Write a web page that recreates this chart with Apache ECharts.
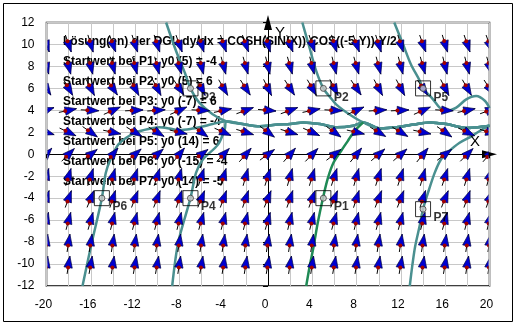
<!DOCTYPE html>
<html><head><meta charset="utf-8">
<script src="https://cdn.jsdelivr.net/npm/echarts@6/dist/echarts.min.js"></script>
<style>html,body{margin:0;padding:0;background:#fff}#c{width:515px;height:324px}</style>
</head><body><div id="c"></div>
<script>
// axis ranges and ticks
const xMin = -20, xMax = 20, xStep = 2, xLabelEvery = 4;
const yMin = -12, yMax = 12, yStep = 2;

// direction field grid (edge columns are clipped by the plot area)
const fieldX = [-20,-18,-16,-14,-12,-10,-8,-6,-4,-2,0,2,4,6,8,10,12,14,16,18,20];
const fieldY = [10,8,6,4,2,0,-2,-4,-6,-8,-10];
// arrow angles (degrees) read per row, top to bottom
const fieldAngle = [
  [-70,-71,-73,-70,-72,-72,-70,-73,-71,-70,-73,-70,-71,-73,-70,-72,-72,-70,-73,-71,-70],
  [-74,-75,-76,-74,-75,-75,-74,-76,-75,-74,-76,-74,-75,-76,-74,-75,-75,-74,-76,-75,-74],
  [-57,-60,-63,-56,-62,-62,-56,-63,-60,-57,-64,-57,-60,-63,-56,-62,-62,-56,-63,-60,-57],
  [20,12,-3,24,3,4,24,-3,12,20,-5,20,12,-3,24,4,3,24,-3,12,20],
  [-17,-25,-35,-12,-31,-31,-13,-36,-24,-17,-37,-17,-24,-36,-13,-31,-31,-12,-35,-25,-17],
  [49,45,37,51,41,41,51,37,46,49,36,49,46,37,51,41,41,51,37,45,49],
  [74,73,72,74,72,72,74,72,73,74,72,74,73,72,74,72,72,74,72,73,74],
  [71,70,68,72,69,69,72,68,70,71,68,71,70,68,72,69,69,72,68,70,71],
  [76,75,74,76,75,75,76,74,75,76,74,76,75,74,76,75,75,76,74,75,76],
  [81,81,81,81,81,81,81,81,81,81,81,81,81,81,81,81,81,81,81,81,81],
  [81,81,80,81,80,80,81,80,81,81,80,81,81,80,81,80,80,81,80,81,81]
];

// start points
const startNames = ['P1','P2','P3','P4','P5','P6','P7'];
const startX = [5, 5, -7, -7, 14, -15, 14];
const startY = [-4, 6, 6, -4, 6, -4, -5];

// solution curves
const band = [[-3.75,3.0],[-2.3,2.75],[-0.75,2.55],[0.9,2.7],[2,2.75],[3.2,2.9],[4.7,2.75],[6.2,2.45],[7.7,2.6],[8.6,2.9],[10.1,2.35],[11.6,2.45],[13.1,2.7],[14.6,2.9],[16.1,2.75],[17.9,2.4],[19.3,2.5],[20,2.6]];
const curveP1 = [[3.45,-12],[3.8,-10],[4.1,-8.5],[4.5,-6.2],[4.96,-4],[5.4,-2.2],[5.9,-0.8],[6.6,0.3],[7.2,1.2],[7.8,2.1],[8.6,2.9]];
const curveP2 = [[3.1,12],[3.75,9.7],[4.35,7.6],[5,6],[5.6,5.2],[6.2,4.5],[7.4,3.6],[8.6,2.9],[10.1,2.35],[11.6,2.45],[13.1,2.7],[14.6,2.9],[16.1,2.75],[17.9,2.4],[19.3,2.5],[20,2.6]];
const curveP3 = [[-9.2,12],[-8.3,9.4],[-7.5,7.4],[-7,6],[-6.2,4.7],[-5,3.65]];
const curveP4 = [[-8.65,-12],[-8.1,-8],[-7,-4],[-6.5,-1.7],[-5.9,-0.5],[-4.5,0.9],[-3.9,2.3]];
const curveP5 = [[11.4,12],[12.2,10],[12.9,8.2],[13.7,6.7],[14,6],[14.9,5],[15.5,4.25],[16.1,3.95],[17,4.25],[17.9,5],[18.8,5.3],[19.6,4.85],[20,4.2]];
const curveP6 = [[-16.75,-12],[-15.9,-8],[-15,-4],[-14.65,-1.7],[-14.2,-0.4],[-13.5,0.9],[-12.8,1.5],[-11.9,2.0],[-10.8,2.3],[-9.8,2.45],[-8.9,2.35],[-8,2.2],[-7,2.3],[-6,2.5],[-5,2.75]];
const curveP7 = [[12.8,-12],[13.25,-8.6],[13.7,-6.5],[14,-5],[14.45,-3.5],[15.05,-1.7],[15.6,-0.5],[16.2,0.15],[17.3,1.05],[18.4,1.65],[19.4,2.3],[20,2.6]];

const infoLines = [
  'Lösung(en) der DGL dy/dx = COSH(SIN(X))-COS((-5-Y))-Y/2',
  'Startwert bei P1: y0 (5) = -4',
  'Startwert bei P2: y0 (5) = 6',
  'Startwert bei P3: y0 (-7) = 6',
  'Startwert bei P4: y0 (-7) = -4',
  'Startwert bei P5: y0 (14) = 6',
  'Startwert bei P6: y0 (-15) = -4',
  'Startwert bei P7: y0 (14) = -5'
];

const fieldData = [];
fieldY.forEach((y, r) => fieldX.forEach((x, c) => fieldData.push([x, y, fieldAngle[r][c]])));

const teal = '#4a9090';
const green = '#1f8a55';
const curveSeries = (data, color) => ({
  type: 'line', data: data, showSymbol: false, smooth: 0.3, clip: true, z: 4,
  lineStyle: { color: color, width: 2.5 }, silent: true
});

const chart = echarts.init(document.getElementById('c'), null, { renderer: 'canvas' });
const ff = 'Arial, "Liberation Sans", sans-serif';
chart.setOption({
  animation: false,
  grid: { left: 46.5, right: 25.5, top: 22.5, bottom: 38, show: true, borderColor: '#000', borderWidth: 1.5, backgroundColor: '#fff' },
  xAxis: {
    type: 'value', min: xMin, max: xMax, interval: xStep,
    axisLine: { show: false },
    axisTick: { show: true, length: 4, lineStyle: { color: '#000' } },
    axisLabel: { fontFamily: ff, fontSize: 12, color: '#000', margin: 13, padding: [0, 6, 0, 0],
      formatter: v => (v % xLabelEvery === 0 ? String(v) : '') },
    splitLine: { show: true, lineStyle: { color: '#c8c8c8', width: 1 } }
  },
  yAxis: {
    type: 'value', min: yMin, max: yMax, interval: yStep,
    axisLine: { show: false },
    axisTick: { show: true, length: 5, lineStyle: { color: '#000' } },
    axisLabel: { fontFamily: ff, fontSize: 12, color: '#000', margin: 12, padding: [4, 0, 0, 0] },
    splitLine: { show: true, lineStyle: { color: '#c8c8c8', width: 1 } }
  },
  graphic: [
    { type: 'rect', shape: { x: 3.5, y: 3.5, width: 509, height: 318 }, style: { fill: null, stroke: '#000', lineWidth: 1 }, z: 0 },
    ...infoLines.map((t, i) => ({
      type: 'text', left: 63, top: 36 + i * 20, z: 1,
      style: { text: t, font: 'bold 12px ' + ff, fill: '#000' }
    })),
    { type: 'text', left: 275, top: 25, z: 10, style: { text: 'Y', font: '15px ' + ff, fill: '#000' } },
    { type: 'text', left: 470, top: 134, z: 10, style: { text: 'X', font: '15px ' + ff, fill: '#000' } }
  ],
  series: [
    {
      type: 'line', data: [], silent: true, z: 3,
      markLine: {
        silent: true, symbol: ['none', 'triangle'], symbolSize: [8, 15], animation: false,
        lineStyle: { color: '#000', width: 1, type: 'solid' }, label: { show: false },
        data: [
          [{ coord: [0, yMin] }, { coord: [0, yMax] }],
          [{ coord: [xMin, 0] }, { coord: [xMax, 0] }]
        ]
      }
    },
    {
      type: 'custom', data: fieldData, z: 5, silent: true, clip: true,
      renderItem: (params, api) => {
        const c = api.coord([api.value(0), api.value(1)]);
        const a = api.value(2) * Math.PI / 180;
        const ux = Math.cos(a), uy = -Math.sin(a);
        const nx = -uy, ny = ux;
        const tip = [c[0] + 8 * ux, c[1] + 8 * uy];
        const base = [c[0] - 3.5 * ux, c[1] - 3.5 * uy];
        const w = 4.2;
        const cs = params.coordSys;
        return { type: 'group',
          clipPath: { type: 'rect', shape: { x: cs.x + 1, y: cs.y, width: cs.width - 2, height: cs.height } },
          children: [
          { type: 'line', shape: { x1: c[0] - 10 * ux, y1: c[1] - 10 * uy, x2: tip[0], y2: tip[1] }, style: { stroke: '#000', lineWidth: 1 } },
          { type: 'polygon', shape: { points: [tip, [base[0] + w * nx, base[1] + w * ny], [base[0] - w * nx, base[1] - w * ny]] }, style: { fill: '#0000d0', stroke: '#000040', lineWidth: 0.7 } },
          { type: 'circle', shape: { cx: base[0], cy: base[1], r: 2 }, style: { fill: '#a00000' } }
        ] };
      }
    },
    curveSeries(curveP3.concat(band), teal),
    curveSeries(curveP4.concat(band), teal),
    curveSeries(curveP6.concat(band), teal),
    curveSeries(curveP2, teal),
    curveSeries(curveP5, teal),
    curveSeries(curveP7, teal),
    curveSeries(curveP1, green),
    {
      type: 'scatter', z: 7, silent: true,
      data: startX.map((x, i) => ({ value: [x, startY[i]], name: startNames[i] })),
      symbol: 'rect', symbolSize: 15,
      itemStyle: { color: 'rgba(0,0,0,0)', borderColor: '#000', borderWidth: 1 },
      label: { show: true, position: [18.5, 11], formatter: p => p.name,
        fontFamily: ff, fontSize: 12, fontWeight: 'bold', color: '#000' }
    },
    {
      type: 'scatter', z: 8, silent: true,
      data: startX.map((x, i) => [x, startY[i]]),
      symbol: 'circle', symbolSize: 6,
      itemStyle: { color: '#c8c8c8', borderColor: '#404040', borderWidth: 1 }
    }
  ]
});
</script>
</body></html>
